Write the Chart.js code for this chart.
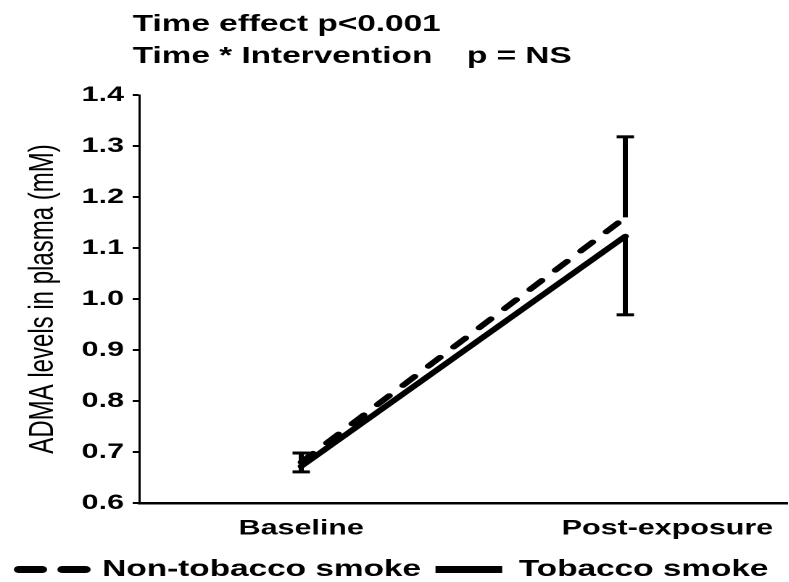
<!DOCTYPE html>
<html lang="en">
    <head>
        <meta charset="UTF-8" />
        <title>ADMA levels</title>
        <script src="https://cdn.jsdelivr.net/npm/chart.js@4.4.1/dist/chart.umd.min.js"></script>
        <style>
            html, body { margin: 0; padding: 0; background: #fff; overflow: hidden; }
            /* the original figure is stretched sideways, so the chart is too */
            #wrap { width: 544px; height: 591px; transform: scaleX(1.45); transform-origin: 0 0; }
        </style>
    </head>
    <body>
        <div id="wrap"><canvas id="canvas" width="544" height="591"></canvas></div>
        <script>
            var timepoints = [0, 1];
            var categories = ["Baseline", "Post-exposure"];
            var seriesNames = ["Non-tobacco smoke", "Tobacco smoke"];

            var nonTobacco = [0.68, 1.16];
            var nonTobaccoUpper = [0.698, 1.318];
            var tobacco = [0.672, 1.123];
            var tobaccoLower = [0.661, 0.969];

            var notes = ["Time effect p<0.001", "Time * Intervention", "p = NS"];

            var font = "'Liberation Sans', Arial, sans-serif";

            function points(values) {
                return values.map(function (v, i) {
                    return { x: timepoints[i], y: v };
                });
            }

            var notesPlugin = {
                id: "notes",
                afterDraw: function (chart) {
                    var ctx = chart.ctx;
                    ctx.save();
                    ctx.fillStyle = "#000";
                    ctx.font = "bold 23px " + font;
                    ctx.textBaseline = "alphabetic";
                    ctx.fillText(notes[0], 91.5, 31);
                    ctx.fillText(notes[1], 91.5, 63);
                    ctx.fillText(notes[2], 322, 63);
                    ctx.restore();
                },
            };

            var errorBars = {
                id: "errorBars",
                afterDatasetsDraw: function (chart) {
                    var ctx = chart.ctx;
                    var x = chart.scales.x;
                    var y = chart.scales.y;
                    ctx.save();
                    ctx.strokeStyle = "#000";
                    chart.data.datasets.forEach(function (ds) {
                        ds.errorEnds.forEach(function (end, i) {
                            var px = x.getPixelForValue(ds.data[i].x);
                            var y0 = y.getPixelForValue(ds.data[i].y);
                            var y1 = y.getPixelForValue(end);
                            ctx.lineWidth = 3.5;
                            ctx.beginPath();
                            ctx.moveTo(px, y0);
                            ctx.lineTo(px, y1);
                            ctx.stroke();
                            ctx.lineWidth = 3;
                            ctx.beginPath();
                            ctx.moveTo(px - 6, y1);
                            ctx.lineTo(px + 6, y1);
                            ctx.stroke();
                        });
                    });
                    ctx.restore();
                },
            };

            var ctx = document.getElementById("canvas").getContext("2d");
            var config = {
                type: "line",
                data: {
                    datasets: [
                        {
                            label: seriesNames[0],
                            data: points(nonTobacco),
                            errorEnds: nonTobaccoUpper,
                            borderColor: "#000",
                            backgroundColor: "#000",
                            borderWidth: 5,
                            borderDash: [12, 14],
                            borderCapStyle: "round",
                            pointRadius: 0,
                        },
                        {
                            label: seriesNames[1],
                            data: points(tobacco),
                            errorEnds: tobaccoLower,
                            borderColor: "#000",
                            backgroundColor: "#000",
                            borderWidth: 5,
                            borderCapStyle: "round",
                            pointRadius: 0,
                        },
                    ],
                },
                options: {
                    responsive: false,
                    animation: false,
                    devicePixelRatio: 2,
                    layout: { padding: { top: 95, left: 0, right: 1, bottom: 0 } },
                    scales: {
                        x: {
                            type: "linear",
                            min: -0.5,
                            max: 1.5,
                            afterBuildTicks: function (scale) {
                                // labels sit a little right of the post-exposure point
                                scale.ticks = [{ value: 0 }, { value: 1.13 }];
                            },
                            afterFit: function (scale) {
                                scale.height = 45;
                            },
                            grid: { display: false },
                            border: { display: true, color: "#000", width: 2.5 },
                            ticks: {
                                padding: 5,
                                color: "#000",
                                font: { family: font, size: 21, weight: "bold" },
                                callback: function (value, index) {
                                    return categories[index];
                                },
                            },
                        },
                        y: {
                            min: 0.6,
                            max: 1.4,
                            afterFit: function (scale) {
                                scale.width = 96;
                            },
                            grid: { drawOnChartArea: false, color: "#000", lineWidth: 2, tickLength: 4.5 },
                            border: { display: true, color: "#000", width: 1.5 },
                            ticks: {
                                stepSize: 0.1,
                                padding: 6,
                                color: "#000",
                                font: { family: font, size: 21, weight: "bold" },
                                callback: function (value) {
                                    return value.toFixed(1);
                                },
                            },
                            title: {
                                display: true,
                                text: "ADMA levels in plasma (mM)",
                                color: "#000",
                                padding: { top: 15.6, bottom: 0 },
                                font: { family: font, size: 24 },
                            },
                        },
                    },
                    plugins: {
                        title: { display: false },
                        tooltip: { enabled: false },
                        legend: {
                            position: "bottom",
                            labels: {
                                color: "#000",
                                usePointStyle: true,
                                pointStyle: "line",
                                pointStyleWidth: 46,
                                padding: 10,
                                font: { family: font, size: 23, weight: "bold" },
                                generateLabels: function (chart) {
                                    return Chart.defaults.plugins.legend.labels.generateLabels(chart).map(function (item) {
                                        var ds = chart.data.datasets[item.datasetIndex];
                                        item.lineWidth = 7;
                                        item.lineDash = ds.borderDash ? [16, 14] : [];
                                        item.lineCap = ds.borderDash ? "round" : "butt";
                                        return item;
                                    });
                                },
                            },
                        },
                    },
                },
                plugins: [errorBars, notesPlugin],
            };

            var chart = new Chart(ctx, config);
        </script>
    </body>
</html>
